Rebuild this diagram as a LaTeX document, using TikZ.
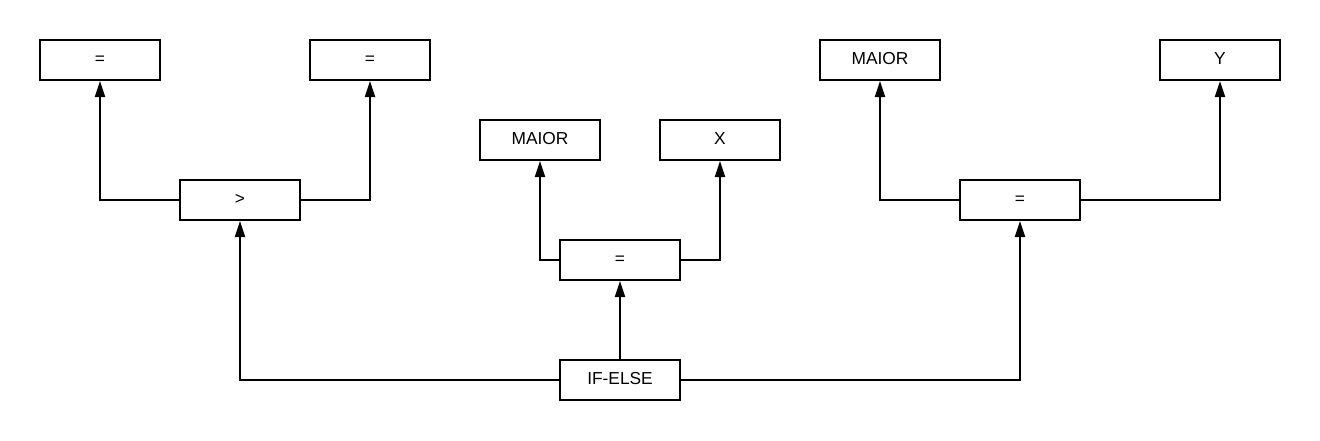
\documentclass[tikz,border=0pt]{standalone}
\usepackage{fontspec}
\setmainfont{Liberation Sans}
\usetikzlibrary{arrows.meta}
\begin{document}
\begin{tikzpicture}[x=0.75pt,y=-0.75pt,
  opbox/.style={draw, line width=1.5pt, minimum width=90pt, minimum height=30pt,
    inner sep=0pt, text height=9.3pt, text depth=3pt, font=\fontsize{13}{15}\selectfont},
  link/.style={line width=1.5pt, -{Triangle[length=12pt,width=7.5pt]}}]
\useasboundingbox (0,0) rectangle (1320,440);

% left comparison subtree
\node[opbox] (eqA) at (100,60) {=};
\node[opbox] (eqB) at (370,60) {=};
\node[opbox] (gt)  at (240,200) {>};

% middle assignment subtree
\node[opbox] (maiorA) at (540,140) {MAIOR};
\node[opbox] (xvar)   at (720,140) {X};
\node[opbox] (eqM)    at (620,260) {=};

% right assignment subtree
\node[opbox] (maiorB) at (880,60) {MAIOR};
\node[opbox] (yvar)   at (1220,60) {Y};
\node[opbox] (eqR)    at (1020,200) {=};

% root
\node[opbox] (ifelse) at (620,380) {IF-ELSE};

\draw[link] (gt.west) -| (eqA.south);
\draw[link] (gt.east) -| (eqB.south);
\draw[link] (eqM.west) -| (maiorA.south);
\draw[link] (eqM.east) -| (xvar.south);
\draw[link] (eqR.west) -| (maiorB.south);
\draw[link] (eqR.east) -| (yvar.south);
\draw[link] (ifelse.west) -| (gt.south);
\draw[link] (ifelse.north) -- (eqM.south);
\draw[link] (ifelse.east) -| (eqR.south);
\end{tikzpicture}
\end{document}
